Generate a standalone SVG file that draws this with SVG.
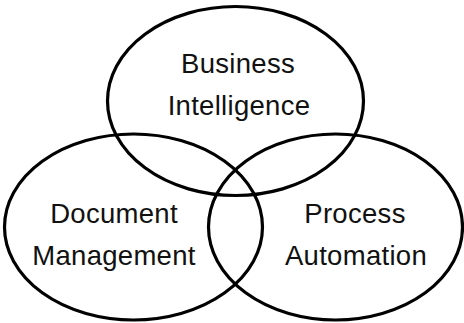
<svg xmlns="http://www.w3.org/2000/svg" width="464" height="323" viewBox="0 0 464 323">
<style>
.e{fill:none;stroke:#000;stroke-width:3.2}
.t{font-family:"Liberation Sans",Arial,sans-serif;font-size:27.5px;letter-spacing:0.3px;fill:#111;text-anchor:middle}
</style>
<rect width="464" height="323" fill="#fff"/>
<g id="business-intelligence">
<ellipse class="e" cx="235.5" cy="101" rx="128" ry="94.5"/>
<text class="t" x="238" y="73">Business</text>
<text class="t" x="239" y="115">Intelligence</text>
</g>
<g id="document-management">
<ellipse class="e" cx="133.5" cy="227" rx="129" ry="93"/>
<text class="t" x="114" y="223">Document</text>
<text class="t" x="114" y="265">Management</text>
</g>
<g id="process-automation">
<ellipse class="e" cx="335.5" cy="227" rx="127" ry="93"/>
<text class="t" x="355" y="223">Process</text>
<text class="t" x="356" y="265">Automation</text>
</g>
<g id="connectors"></g>
</svg>
